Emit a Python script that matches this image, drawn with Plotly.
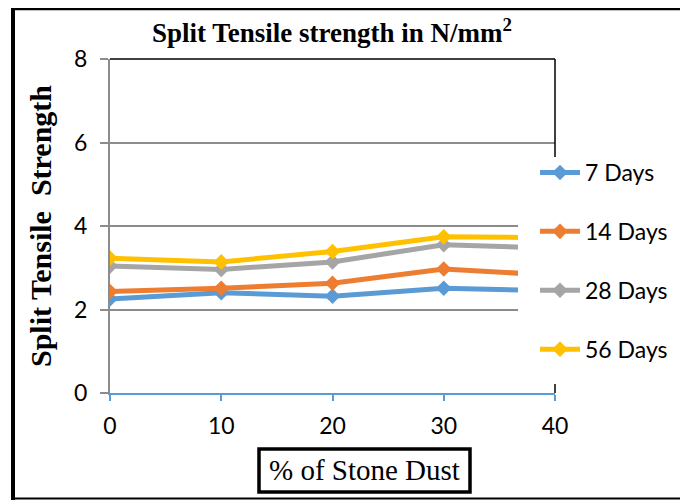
import plotly.graph_objects as go

x_vals = [0, 10, 20, 30, 40]
series_names = ["7 Days", "14 Days", "28 Days", "56 Days"]
days7 = [2.25, 2.40, 2.32, 2.51, 2.45]
days14 = [2.43, 2.51, 2.63, 2.97, 2.82]
days28 = [3.04, 2.96, 3.14, 3.55, 3.47]
days56 = [3.23, 3.14, 3.39, 3.74, 3.72]
colors = ["#5B9BD5", "#ED7D31", "#A5A5A5", "#FFC000"]
y_ticks = [0, 2, 4, 6, 8]

OFF = 8  # page body offset
W, H = 688, 500
L, R, T, B = 110, 555, 59, 393  # plot area in reference pixels


def px(xp):
    return (xp - L) / (R - L)


def py(yp):
    return (B - yp) / (B - T)


fig = go.Figure()
for i, (name, vals) in enumerate(zip(series_names, [days7, days14, days28, days56])):
    fig.add_trace(go.Scatter(
        x=x_vals, y=vals, name=name, mode="lines+markers",
        line=dict(color=colors[i], width=5),
        marker=dict(symbol="diamond", size=12, color=colors[i]),
        legendgroup=name,
    ))

fig.update_layout(
    width=W - OFF, height=H - OFF,
    margin=dict(l=L - OFF, r=W - R, t=T - OFF, b=H - B, autoexpand=False),
    paper_bgcolor="white", plot_bgcolor="white",
    showlegend=True,
    legend=dict(
        x=px(535), y=py(151), xanchor="left", yanchor="top",
        bgcolor="rgba(0,0,0,0)", borderwidth=0,
        font=dict(family="Lato", size=23, color="#000000"),
        tracegroupgap=26, itemwidth=40,
    ),
    xaxis=dict(
        range=[0, 40], tickvals=x_vals, showgrid=False, zeroline=False,
        showline=True, linecolor="#5B9BD5", linewidth=2,
        ticks="outside", tickcolor="#5B9BD5", ticklen=6, tickwidth=1.5,
        tickfont=dict(family="Lato", size=23, color="#000000"),
        ticklabelstandoff=5,
    ),
    yaxis=dict(
        range=[0, 8], tickvals=y_ticks, showgrid=True, gridcolor="#8C8C8C", gridwidth=1.5,
        zeroline=False, showline=True, linecolor="#8C8C8C", linewidth=2,
        ticks="outside", tickcolor="#8C8C8C", ticklen=8, tickwidth=1.5,
        tickfont=dict(family="Lato", size=23, color="#000000"),
        ticklabelstandoff=8,
    ),
)

# plot border top and right (black)
fig.add_shape(type="line", xref="paper", yref="paper", x0=0, x1=1, y0=1, y1=1,
              line=dict(color="black", width=1.5), layer="above")
fig.add_shape(type="line", xref="paper", yref="paper", x0=1, x1=1, y0=0, y1=1,
              line=dict(color="black", width=1.5), layer="above")
# white area behind legend covering lines
fig.add_shape(type="rect", xref="paper", yref="paper", x0=px(518), x1=px(600), y0=py(384), y1=py(157),
              line=dict(width=0), fillcolor="white", layer="above")

# outer frame
fig.add_shape(type="line", xref="paper", yref="paper", x0=px(13), x1=px(13), y0=py(7), y1=py(500),
              line=dict(color="black", width=4))
fig.add_shape(type="line", xref="paper", yref="paper", x0=px(11), x1=px(700), y0=py(8.5), y1=py(8.5),
              line=dict(color="black", width=3.5))
fig.add_shape(type="line", xref="paper", yref="paper", x0=px(11), x1=px(700), y0=py(498.5), y1=py(498.5),
              line=dict(color="black", width=2))

# title
fig.add_annotation(xref="paper", yref="paper", x=px(332), y=py(31),
                   text="<b>Split Tensile strength in N/mm<sup>2</sup></b>", showarrow=False,
                   font=dict(family="Liberation Serif", size=27, color="black"),
                   xanchor="center", yanchor="middle")

# y axis title
fig.add_annotation(xref="paper", yref="paper", x=px(40), y=py(226),
                   text="<b>Split Tensile  Strength</b>", showarrow=False, textangle=-90,
                   font=dict(family="Liberation Serif", size=30, color="black"),
                   xanchor="center", yanchor="middle")

# x axis title in a box
fig.add_shape(type="rect", xref="paper", yref="paper", x0=px(259), x1=px(470), y0=py(449), y1=py(492),
              line=dict(color="black", width=3.5), fillcolor="white")
fig.add_annotation(xref="paper", yref="paper", x=px(364), y=py(470),
                   text="% of Stone Dust", showarrow=False,
                   font=dict(family="Liberation Serif", size=29, color="black"),
                   xanchor="center", yanchor="middle")

fig.write_html("out.html")
